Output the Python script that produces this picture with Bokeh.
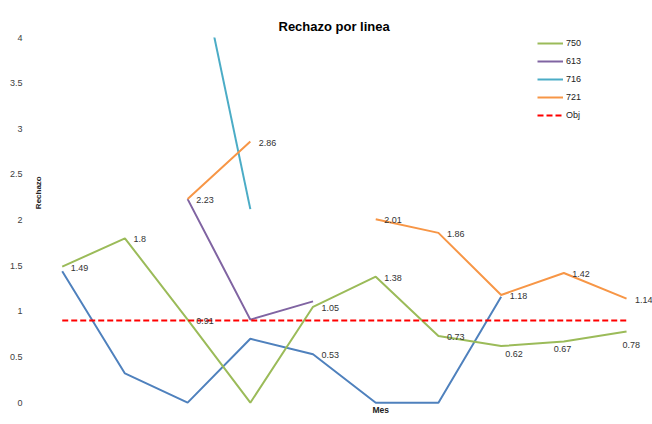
import math
from bokeh.plotting import figure
from bokeh.models import (ColumnDataSource, Range1d, FixedTicker, CustomJSTickFormatter,
                          Legend, LegendItem, Label, Title)
from bokeh.core.properties import value
from bokeh.embed import file_html
from bokeh.resources import INLINE

nan = float("nan")

# ---- data ----
meses = [1, 2, 3, 4, 5, 6, 7, 8, 9, 10]
s750 = [1.49, 1.8, 0.91, 0.0, 1.05, 1.38, 0.73, 0.62, 0.67, 0.78]
s613 = [nan, nan, 2.23, 0.91, 1.11, nan, nan, nan, nan, nan]
s716 = [nan, nan, 5.4, 2.12, nan, nan, nan, nan, nan, nan]
s721 = [nan, nan, 2.23, 2.86, nan, 2.01, 1.86, 1.18, 1.42, 1.14]
s_azul = [1.44, 0.32, 0.0, 0.70, 0.53, 0.0, 0.0, 1.16, nan, nan]
obj = [0.9, 0.9, 0.9, 0.9, 0.9, 0.9, 0.9, 0.9, 0.9, 0.9]

# data labels: (mes, valor, texto)
etiquetas_mes = [1, 2, 3, 5, 6, 7, 8, 9, 10, 3, 4, 6, 7, 8, 9, 10, 5]
etiquetas_val = [1.49, 1.8, 0.91, 1.05, 1.38, 0.73, 0.62, 0.67, 0.78,
                 2.23, 2.86, 2.01, 1.86, 1.18, 1.42, 1.14, 0.53]
etiquetas_txt = ["1.49", "1.8", "0.91", "1.05", "1.38", "0.73", "0.62", "0.67", "0.78",
                 "2.23", "2.86", "2.01", "1.86", "1.18", "1.42", "1.14", "0.53"]
y_ticks = [0, 0.5, 1, 1.5, 2, 2.5, 3, 3.5, 4]

# label placement style (pixels): right of point, except a few below
pos_style = {"right": (8.5, 1), "below1": (4, 8), "below2": (-10, 7), "below3": (-4, 14)}
etiquetas_pos = ["right"] * 6 + ["below1", "below2", "below3"] + ["right"] * 8

FONT = "Liberation Sans"
GREEN, PURPLE, TEAL, ORANGE, BLUE, RED = "#9BBB59", "#8064A2", "#4BACC6", "#F79646", "#4F81BD", "#FF0000"

p = figure(width=652, height=424, output_backend="svg", toolbar_location=None,
           x_range=Range1d(0.494, 10.414), y_range=Range1d(-0.02, 4),
           min_border_left=30, min_border_right=0, min_border_top=37, min_border_bottom=20,
           title="Rechazo por linea")
p.title.align = "left"
p.title.offset = 248
p.title.text_font = FONT
p.title.text_font_size = "13px"
p.title.text_font_style = "bold"
p.title.text_color = "#000000"
p.title.standoff = 8

p.xaxis.visible = False
p.xgrid.visible = False
p.ygrid.visible = False
p.outline_line_color = None
p.background_fill_color = "white"
p.border_fill_color = "white"

ya = p.yaxis[0]
ya.ticker = FixedTicker(ticks=y_ticks)
ya.formatter = CustomJSTickFormatter(code="return tick.toString();")
ya.axis_line_color = None
ya.major_tick_line_color = None
ya.minor_tick_line_color = None
ya.major_tick_out = 0
ya.major_label_standoff = 8
ya.major_label_text_font = FONT
ya.major_label_text_font_size = "9px"
ya.major_label_text_color = "#404040"

src = ColumnDataSource(dict(mes=meses, s750=s750, s613=s613, s716=s716, s721=s721,
                            azul=s_azul, obj=obj))

r_azul = p.line("mes", "azul", source=src, line_color=BLUE, line_width=2)
r750 = p.line("mes", "s750", source=src, line_color=GREEN, line_width=2)
r613 = p.line("mes", "s613", source=src, line_color=PURPLE, line_width=2)
r716 = p.line("mes", "s716", source=src, line_color=TEAL, line_width=2)
r721 = p.line("mes", "s721", source=src, line_color=ORANGE, line_width=2)
robj = p.line("mes", "obj", source=src, line_color=RED, line_width=2, line_dash="6 3")

lab_src = ColumnDataSource(dict(
    x=etiquetas_mes, y=etiquetas_val, t=etiquetas_txt,
    xo=[pos_style[k][0] for k in etiquetas_pos],
    yo=[pos_style[k][1] for k in etiquetas_pos]))
p.text("x", "y", text="t", source=lab_src, x_offset="xo", y_offset="yo",
       text_font=value(FONT), text_font_size="9px", text_color="#333333",
       text_align="left", text_baseline="middle")

legend = Legend(items=[LegendItem(label="750", renderers=[r750]),
                       LegendItem(label="613", renderers=[r613]),
                       LegendItem(label="716", renderers=[r716]),
                       LegendItem(label="721", renderers=[r721]),
                       LegendItem(label="Obj", renderers=[robj])],
                location=(507, 282), orientation="vertical",
                glyph_width=26, glyph_height=14, label_height=14, spacing=4,
                label_standoff=3, padding=0, margin=0,
                label_text_font=FONT, label_text_font_size="9px", label_text_color="#222222",
                border_line_color=None, background_fill_alpha=0)
p.add_layout(legend, "center")

p.add_layout(Label(x=0.62, y=2.30, text="Rechazo", angle=math.pi / 2,
                   text_font=FONT, text_font_size="8px", text_font_style="bold",
                   text_color="#222222", text_align="center", text_baseline="middle"))

p.add_layout(Title(text="Mes", align="left", offset=342, standoff=-4,
                   text_font=FONT, text_font_size="8.5px", text_font_style="bold",
                   text_color="#222222"), "below")

open("out.html", "w").write(file_html(p, INLINE))
